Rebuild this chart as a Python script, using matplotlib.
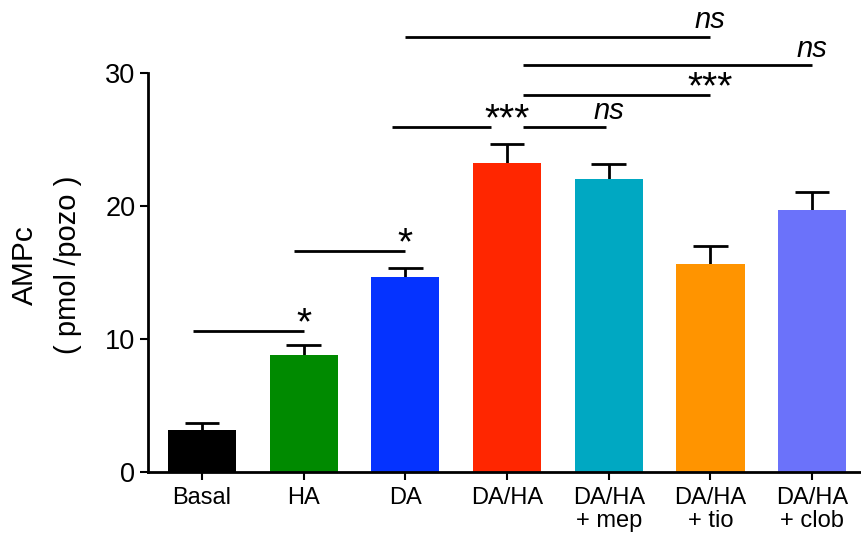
import numpy as np
import matplotlib
matplotlib.use("Agg")
import matplotlib.pyplot as plt

plt.rcParams['font.family'] = ['Liberation Sans', 'DejaVu Sans']

# datos
grupos = ["Basal", "HA", "DA", "DA/HA", "DA/HA\n+ mep", "DA/HA\n+ tio", "DA/HA\n+ clob"]
ampc = [3.1, 8.75, 14.6, 23.2, 22.0, 15.6, 19.7]
error = [0.55, 0.75, 0.7, 1.45, 1.1, 1.35, 1.3]
colores = ["#000000", "#008A00", "#0533FF", "#FF2600", "#00A8C2", "#FF9400", "#6B72FA"]

# comparaciones: (x inicio, x fin, altura, texto, estilo)
comparaciones = [
    (-0.09, 1.0, 10.6, "*", "normal"),
    (0.91, 2.0, 16.6, "*", "normal"),
    (1.87, 2.84, 25.9, "***", "normal"),
    (3.16, 3.97, 25.9, "ns", "italic"),
    (3.16, 5.0, 28.3, "***", "normal"),
    (3.16, 6.0, 30.55, "ns", "italic"),
    (2.0, 5.0, 32.7, "ns", "italic"),
]
posiciones_texto = [1.0, 2.0, 3.0, 4.0, 5.0, 6.0, 5.0]

fig = plt.figure(figsize=(8.62, 5.33), dpi=100)
ax = fig.add_axes([148 / 862, 1 - 471.5 / 533, 714 / 862, (471.5 - 72.7) / 533])

x = np.arange(len(grupos))
ax.bar(x, ampc, width=0.67, color=colores, zorder=2)

# barras de error solo hacia arriba
tope = np.array(ampc) + np.array(error)
ax.vlines(x, ampc, tope, color="black", lw=2, zorder=1)
ax.hlines(tope, x - 0.17, x + 0.17, color="black", lw=2, zorder=1)

for (x0, x1, h, txt, estilo), xt in zip(comparaciones, posiciones_texto):
    ax.plot([x0, x1], [h, h], color="black", lw=2, clip_on=False,
            solid_capstyle="butt")
    if estilo == "italic":
        ax.text(xt, h + 0.2, txt, ha="center", va="bottom", fontsize=21,
                style="italic", clip_on=False)
    else:
        ax.text(xt, h - 0.85, txt, ha="center", va="bottom", fontsize=28,
                clip_on=False)

ax.set_xlim(-0.53, 6.49)
ax.set_ylim(0, 30)
ax.set_yticks([0, 10, 20, 30])
ax.set_xticks(x)
ax.set_xticklabels(grupos, fontsize=17, linespacing=1.08)
ax.tick_params(axis="y", labelsize=19.5, width=1.5, length=6, pad=3)
ax.tick_params(axis="x", width=1.5, length=6, pad=5)

for lado in ["top", "right"]:
    ax.spines[lado].set_visible(False)
for lado in ["left", "bottom"]:
    ax.spines[lado].set_linewidth(2)

fig.text(25 / 862, 1 - 265 / 533, "AMPc", rotation=90, ha="center", va="center",
         fontsize=21.5)
fig.text(68 / 862, 1 - 265 / 533, "( pmol /pozo )", rotation=90, ha="center",
         va="center", fontsize=21)

fig.savefig("out.png", dpi=100)
